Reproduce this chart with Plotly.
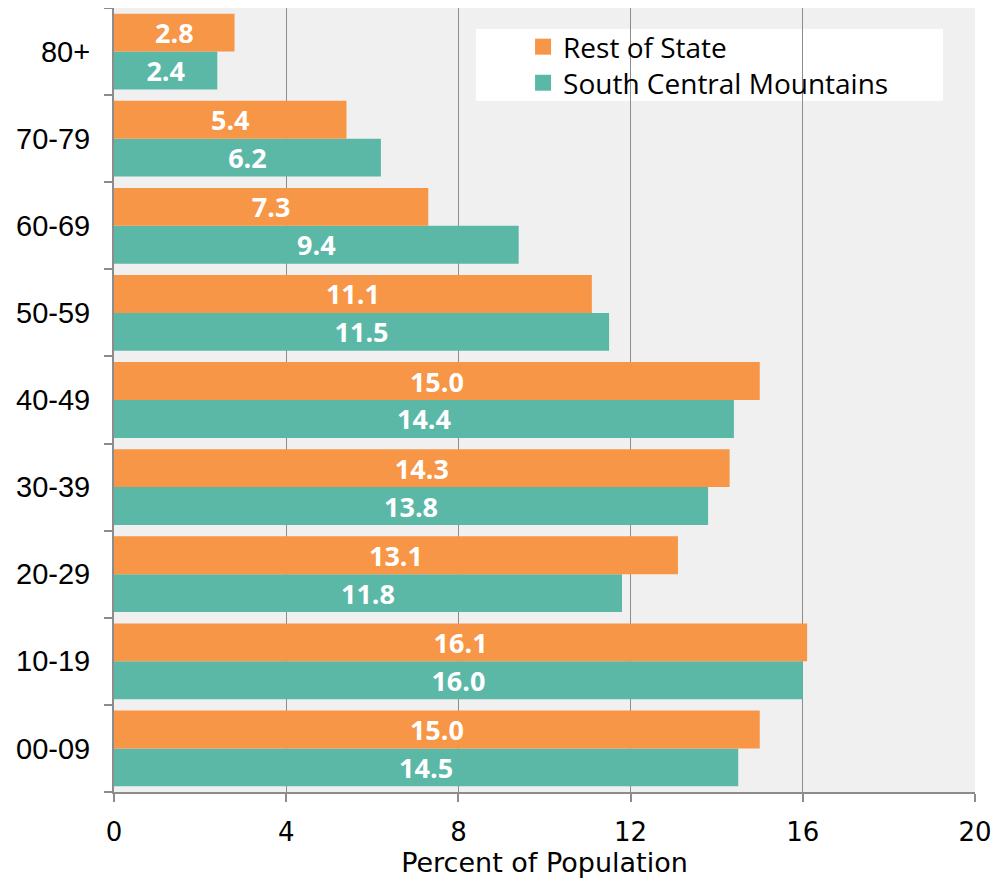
import plotly.graph_objects as go

categories = ["00-09", "10-19", "20-29", "30-39", "40-49", "50-59", "60-69", "70-79", "80+"]
rest_of_state = [15.0, 16.1, 13.1, 14.3, 15.0, 11.1, 7.3, 5.4, 2.8]
south_central = [14.5, 16.0, 11.8, 13.8, 14.4, 11.5, 9.4, 6.2, 2.4]
x_ticks = [0, 4, 8, 12, 16, 20]

ORANGE = "#F79646"
TEAL = "#5BB8A7"
GRAY = "#8C8C8C"
label_font = dict(family="Open Sans", size=27, color="white")

fig = go.Figure()
fig.add_trace(go.Bar(
    y=categories, x=south_central, orientation="h", name="South Central Mountains",
    marker=dict(color=TEAL, line=dict(width=0)), showlegend=False,
    texttemplate="<b>%{x:.1f}</b>", textposition="inside", insidetextanchor="middle",
    constraintext="none", textfont=label_font, hoverinfo="skip",
))
fig.add_trace(go.Bar(
    y=categories, x=rest_of_state, orientation="h", name="Rest of State",
    marker=dict(color=ORANGE, line=dict(width=0)), showlegend=False,
    texttemplate="<b>%{x:.1f}</b>", textposition="inside", insidetextanchor="middle",
    constraintext="none", textfont=label_font, hoverinfo="skip",
))
# legend entries (square swatches), one per legend for exact row placement
fig.add_trace(go.Scatter(x=[None], y=[None], mode="markers", name="Rest of State", legend="legend",
                         marker=dict(symbol="square", size=16, color=ORANGE, line=dict(width=0))))
fig.add_trace(go.Scatter(x=[None], y=[None], mode="markers", name="South Central Mountains", legend="legend2",
                         marker=dict(symbol="square", size=16, color=TEAL, line=dict(width=0))))

# white legend box
fig.add_shape(type="rect", xref="paper", yref="paper",
              x0=0.4204, x1=0.9628, y0=0.8814, y1=0.9732,
              fillcolor="white", line=dict(width=0), layer="between")

legend_common = dict(
    xanchor="left", yanchor="middle", bgcolor="rgba(0,0,0,0)", borderwidth=0,
    font=dict(family="Open Sans", size=28, color="black"),
    itemsizing="trace", itemwidth=30,
)

fig.update_layout(
    width=991, height=874,
    margin=dict(l=106, r=24, t=0, b=90),
    paper_bgcolor="white", plot_bgcolor="#F0F0F0",
    barmode="group", bargap=0.13, bargroupgap=0,
    legend=dict(x=0.4751, y=0.9503, **legend_common),
    legend2=dict(x=0.4751, y=0.9043, **legend_common),
    xaxis=dict(
        range=[0, 20], tickvals=x_ticks, ticktext=[str(v) for v in x_ticks],
        showgrid=True, gridcolor=GRAY, gridwidth=1,
        showline=True, linecolor=GRAY, linewidth=2,
        ticks="outside", ticklen=8, tickcolor=GRAY, tickwidth=2,
        tickfont=dict(family="DejaVu Sans", size=26, color="black"),
        ticklabelstandoff=8,
        title=dict(text="Percent of Population", standoff=6,
                   font=dict(family="DejaVu Sans", size=27, color="black")),
        zeroline=False, fixedrange=True,
    ),
    yaxis=dict(
        type="category", categoryorder="array", categoryarray=categories,
        showgrid=False, showline=True, linecolor=GRAY, linewidth=2,
        ticks="outside", tickson="boundaries", ticklen=8, tickcolor=GRAY, tickwidth=2,
        tickfont=dict(family="Liberation Sans", size=29, color="black"),
        ticklabelstandoff=16, fixedrange=True,
    ),
)

fig.write_html("out.html")
